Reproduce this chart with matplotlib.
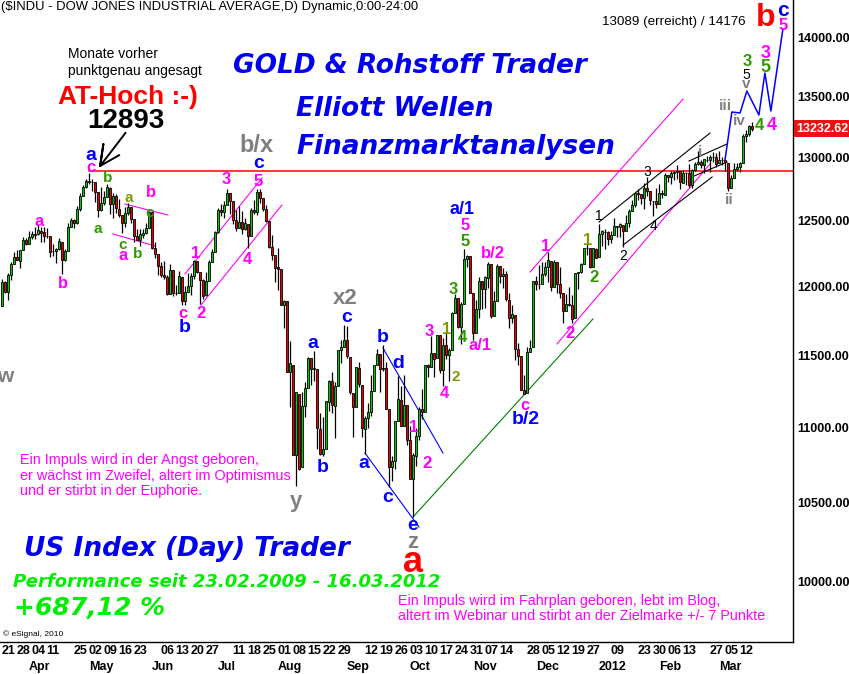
import numpy as np
import pandas as pd
import matplotlib
matplotlib.use('Agg')
import matplotlib.pyplot as plt
import matplotlib.transforms as mtransforms
from matplotlib.ticker import FixedLocator, NullLocator, FuncFormatter

W, H = 849, 674

# Handelstage ($INDU, Tageskerzen)
feiertage = ['2011-04-22', '2011-05-30', '2011-07-04', '2011-09-05', '2011-11-24',
             '2011-12-26', '2012-01-02', '2012-01-16', '2012-02-20']
tage = pd.bdate_range('2011-03-21', '2012-03-16')
tage = tage[~tage.isin(pd.to_datetime(feiertage))]

opens = [
    11860, 12036, 11958, 12087, 12171, 12221, 12196, 12280, 12349,
    12321, 12377, 12399, 12395, 12425, 12411, 12381, 12380, 12265, 12268, 12285, 12339, 12202, 12270, 12453, 12505, 12480, 12595, 12690, 12764,
    12810, 12807, 12806, 12723, 12585, 12638, 12685, 12760, 12630, 12696, 12595, 12547, 12480, 12560, 12605, 12511, 12381, 12356, 12394, 12403, 12442,
    12569, 12290, 12247, 12152, 12090, 12069, 11949, 12123, 11952, 11953, 12073, 11897, 11962, 12004, 12081, 12190, 12109, 12048, 11935, 12044, 12189, 12262,
    12415, 12582, 12569, 12627, 12718, 12655, 12505, 12447, 12490, 12437, 12479, 12385, 12588, 12572, 12723, 12680, 12592, 12501, 12301, 12239,
    12144, 12130, 11864, 11893, 11383, 11433, 10810, 11228, 10729, 11143, 11269, 11480, 11406, 11405, 10989, 10821, 10855, 11176, 11320, 11145, 11285, 11537, 11560,
    11613, 11492, 11238, 11140, 11414, 11294, 10990, 11061, 11105, 11247, 11433, 11509, 11401, 11408, 11124, 10731, 10770, 11044, 11190, 11011, 11152,
    10912, 10650, 10803, 10939, 11123, 11104, 11431, 11416, 11517, 11479, 11643, 11397, 11577, 11505, 11541, 11808, 11913, 11707, 11870, 12208, 12229,
    11954, 11660, 11835, 12043, 11982, 12068, 12168, 11782, 11893, 12153, 12078, 12096, 11904, 11770, 11794, 11547, 11493, 11258, 11232, 11524, 11559,
    12045, 12023, 12020, 12097, 12150, 12196, 11997, 12183, 12022, 11954, 11824, 11870, 11866, 11769, 12102, 12107, 12170, 12292, 12291, 12151, 12287,
    12221, 12397, 12413, 12415, 12360, 12394, 12460, 12449, 12471, 12423, 12482, 12578, 12623, 12719, 12707, 12675, 12757, 12734, 12658, 12654,
    12632, 12716, 12705, 12860, 12844, 12878, 12883, 12890, 12800, 12873, 12878, 12780, 12903, 12949, 12964, 12937, 12984, 12980, 13005, 13004,
    12954, 12979, 12977, 12958, 12760, 12838, 12907, 12921, 12959, 13176, 13193, 13253,
]
highs = [
    12055, 12040, 12100, 12185, 12260, 12278, 12280, 12375, 12371,
    12419, 12425, 12451, 12476, 12450, 12450, 12442, 12380, 12323, 12290, 12371, 12341, 12285, 12485, 12520, 12513, 12615, 12720, 12777, 12830,
    12876, 12832, 12807, 12723, 12761, 12734, 12786, 12767, 12719, 12708, 12667, 12547, 12605, 12638, 12605, 12511, 12438, 12439, 12435, 12481, 12578,
    12569, 12337, 12247, 12188, 12193, 12090, 12173, 12123, 12016, 12120, 12073, 12003, 12106, 12102, 12198, 12193, 12109, 12056, 12111, 12200, 12282, 12422,
    12596, 12635, 12653, 12753, 12718, 12655, 12584, 12616, 12573, 12525, 12479, 12602, 12660, 12751, 12752, 12680, 12620, 12501, 12394, 12239,
    12295, 12130, 11905, 11893, 11600, 11433, 11244, 11228, 11245, 11310, 11487, 11480, 11534, 11405, 11096, 11072, 11177, 11326, 11381, 11311, 11541, 11613, 11717,
    11708, 11492, 11238, 11415, 11455, 11294, 11076, 11164, 11361, 11434, 11544, 11509, 11577, 11453, 11124, 10804, 11044, 11353, 11284, 11360, 11152,
    11010, 10827, 10995, 11139, 11262, 11433, 11436, 11641, 11517, 11647, 11643, 11622, 11660, 11551, 11810, 11948, 11913, 11886, 12284, 12242, 12229,
    11954, 11899, 12074, 12043, 12078, 12183, 12168, 11966, 12168, 12153, 12137, 12120, 11951, 11864, 11794, 11586, 11493, 11363, 11560, 11608, 12046,
    12080, 12162, 12189, 12182, 12258, 12196, 12198, 12183, 12145, 11954, 11948, 11996, 11936, 12103, 12110, 12179, 12294, 12320, 12291, 12288, 12290,
    12479, 12430, 12435, 12418, 12419, 12524, 12460, 12485, 12471, 12546, 12590, 12666, 12720, 12753, 12707, 12793, 12841, 12734, 12658, 12760,
    12789, 12744, 12876, 12860, 12890, 12894, 12942, 12890, 12898, 12883, 12947, 12912, 12967, 13056, 12981, 12992, 13010, 13018, 13041, 13038,
    13055, 13006, 12981, 12958, 12863, 12955, 12956, 12965, 13193, 13227, 13262, 13289,
]
lows = [
    11860, 11950, 11900, 12050, 12170, 12197, 12140, 12280, 12314,
    12320, 12360, 12363, 12394, 12340, 12334, 12365, 12220, 12227, 12179, 12280, 12093, 12195, 12270, 12453, 12446, 12478, 12577, 12690, 12760,
    12787, 12735, 12645, 12527, 12580, 12624, 12684, 12556, 12525, 12560, 12529, 12406, 12455, 12542, 12480, 12340, 12356, 12303, 12370, 12400, 12442,
    12282, 12216, 12085, 12069, 12060, 11939, 11949, 11932, 11940, 11953, 11862, 11862, 11962, 11935, 12059, 12106, 11874, 11909, 11934, 12044, 12189, 12262,
    12405, 12537, 12522, 12626, 12555, 12479, 12418, 12446, 12401, 12432, 12289, 12385, 12551, 12546, 12642, 12575, 12491, 12288, 12200, 12032,
    11974, 11866, 11695, 11384, 11139, 10809, 10604, 10712, 10729, 11072, 11269, 11290, 11321, 10850, 10812, 10803, 10855, 11112, 11098, 10929, 11285, 11446, 11560,
    11484, 11229, 10930, 11140, 11276, 10933, 10821, 10997, 11076, 11247, 11433, 11243, 11393, 11124, 10597, 10640, 10716, 11044, 11007, 11011, 10879,
    10653, 10404, 10741, 10910, 11055, 11104, 11350, 11416, 11347, 11479, 11376, 11286, 11478, 11322, 11541, 11808, 11695, 11580, 11870, 12145, 11955,
    11613, 11660, 11771, 11839, 11843, 11994, 11770, 11782, 11893, 12030, 11994, 11894, 11697, 11735, 11467, 11434, 11258, 11231, 11232, 11524, 11559,
    11976, 11982, 12020, 12079, 12034, 11970, 11997, 11957, 11913, 11735, 11824, 11860, 11735, 11769, 11983, 12101, 12170, 12238, 12143, 12151, 12217,
    12221, 12310, 12283, 12311, 12328, 12394, 12377, 12372, 12300, 12423, 12450, 12578, 12608, 12663, 12630, 12594, 12697, 12621, 12540, 12603,
    12632, 12682, 12705, 12801, 12792, 12823, 12831, 12746, 12800, 12778, 12764, 12756, 12890, 12942, 12913, 12879, 12966, 12886, 12966, 12925,
    12954, 12941, 12892, 12733, 12760, 12838, 12890, 12886, 12959, 13129, 13172, 13217,
]
closes = [
    12036, 11959, 12086, 12170, 12220, 12198, 12280, 12350, 12320,
    12377, 12400, 12394, 12426, 12409, 12380, 12381, 12263, 12270, 12285, 12342, 12202, 12266, 12453, 12506, 12480, 12595, 12690, 12763, 12811,
    12808, 12807, 12724, 12584, 12638, 12685, 12761, 12631, 12696, 12596, 12548, 12480, 12560, 12606, 12512, 12381, 12356, 12395, 12403, 12441, 12570,
    12290, 12248, 12152, 12089, 12070, 11949, 12125, 11952, 11953, 12077, 11897, 11962, 12004, 12081, 12191, 12110, 12050, 11934, 12043, 12188, 12262, 12414,
    12582, 12570, 12626, 12719, 12657, 12505, 12447, 12491, 12437, 12480, 12385, 12587, 12572, 12724, 12681, 12593, 12502, 12302, 12240, 12143,
    12132, 11866, 11896, 11384, 11445, 10810, 11240, 10720, 11144, 11269, 11482, 11406, 11411, 10991, 10818, 10855, 11177, 11320, 11150, 11285, 11540, 11560, 11614,
    11494, 11240, 11140, 11415, 11296, 10992, 11062, 11106, 11247, 11434, 11510, 11401, 11408, 11125, 10734, 10771, 11044, 11191, 11011, 11154, 10913,
    10655, 10809, 10940, 11123, 11103, 11433, 11416, 11519, 11478, 11644, 11397, 11577, 11505, 11541, 11809, 11913, 11706, 11869, 12209, 12231, 11955,
    11658, 11836, 12044, 11983, 12069, 12170, 11781, 11894, 12153, 12079, 12097, 11906, 11771, 11796, 11548, 11494, 11258, 11231, 11524, 11556, 12046,
    12021, 12019, 12098, 12151, 12197, 11998, 12185, 12021, 11955, 11824, 11869, 11867, 11766, 12103, 12108, 12170, 12294, 12292, 12151, 12288, 12218,
    12398, 12418, 12416, 12360, 12393, 12462, 12450, 12472, 12422, 12482, 12579, 12624, 12720, 12709, 12676, 12758, 12735, 12660, 12653, 12633,
    12716, 12706, 12862, 12845, 12879, 12884, 12891, 12801, 12874, 12878, 12781, 12904, 12950, 12966, 12938, 12985, 12983, 13006, 13005, 12952,
    12980, 12978, 12962, 12759, 12837, 12907, 12922, 12959, 13177, 13194, 13253, 13233,
]
letzter_kurs = 13232.62
at_hoch = 12893

# Achsenbeschriftung unten
tag_labels = ['2011-03-21', '2011-03-28', '2011-04-04', '2011-04-11', '2011-04-25', '2011-05-02',
              '2011-05-09', '2011-05-16', '2011-05-23', '2011-06-06', '2011-06-13', '2011-06-20',
              '2011-06-27', '2011-07-11', '2011-07-18', '2011-07-25', '2011-08-01', '2011-08-08',
              '2011-08-15', '2011-08-22', '2011-08-29', '2011-09-12', '2011-09-19', '2011-09-26',
              '2011-10-03', '2011-10-10', '2011-10-17', '2011-10-24', '2011-10-31', '2011-11-07',
              '2011-11-14', '2011-11-28', '2011-12-05', '2011-12-12', '2011-12-19', '2011-12-27',
              '2012-01-09', '2012-01-23', '2012-01-30', '2012-02-06', '2012-02-13', '2012-02-27',
              '2012-03-05', '2012-03-12']
monat_labels = ['Apr', 'May', 'Jun', 'Jul', 'Aug', 'Sep', 'Oct', 'Nov', 'Dec', '2012', 'Feb', 'Mar']
kurs_ticks = [10000, 10500, 11000, 11500, 12000, 12500, 13000, 13500, 14000]

# Prognosepfad (Tagesindex, Kurs)
prog_idx = [241, 243.3, 246, 248.3, 252.3, 254.3, 256.3, 260.3]
prog_kurs = [12980, 13372, 13364, 13547, 13347, 13699, 13380, 14078]

# Trendlinien: (idx1, kurs1, idx2, kurs2, farbe)
linien = [
    (176, 12110, 227, 13480, '#ff00ff'),
    (185, 11582, 236, 12948, '#ff00ff'),
    (137, 10404, 197, 11763, '#008000'),
    (121, 10825, 139, 10340, '#0000ff'),
    (127, 11553, 147, 10825, '#0000ff'),
    (61, 12095, 86.7, 12837, '#ff00ff'),
    (66.3, 11865, 93.3, 12623, '#ff00ff'),
    (41, 12631, 55.3, 12545, '#ff00ff'),
    (37, 12399, 51, 12307, '#ff00ff'),
    (199, 12491, 236, 13199, 'black'),
    (207, 12314, 236.7, 12844, 'black'),
    (229, 12972, 241.7, 13110, 'black'),
    (230.7, 12852, 241.7, 12964, 'black'),
]
pfeil = [(41.2, 13201), (32.7, 12932), (33.8, 13109), (32.7, 12932), (39.1, 13020)]

B, M, G, O, GR, K, R = '#0000ff', '#ff00ff', '#2f9a00', '#7f9a00', '#808080', 'black', '#ff0000'
wellen = [
    ('a', 91, 155, B, 14), ('c', 91, 167, M, 12), ('b', 108, 177, G, 11),
    ('a', 39, 221, M, 12), ('b', 63, 282, M, 12), ('a', 98, 228, G, 11),
    ('a', 129, 197, O, 11), ('b', 151, 191, M, 12), ('c', 150, 212, G, 11),
    ('c', 123, 244, G, 11), ('a', 123, 255, M, 12), ('b', 138, 253, G, 11),
    ('c', 183, 312, M, 12), ('b', 185, 326, B, 14), ('1', 196, 252, M, 12),
    ('2', 201, 313, M, 12), ('3', 226, 179, M, 12), ('5', 258, 180, M, 12),
    ('c', 259, 163, B, 14), ('4', 247, 258, M, 12), ('b/x', 257, 145, GR, 17),
    ('w', 5, 375, GR, 15), ('x2', 345, 298, GR, 16), ('c', 347, 316, B, 14),
    ('a', 313, 342, B, 14), ('b', 383, 337, B, 14), ('d', 398, 363, B, 14),
    ('b', 323, 467, B, 14), ('y', 296, 500, GR, 16), ('a', 364, 463, B, 14),
    ('c', 388, 497, B, 14), ('e', 413, 525, B, 14), ('z', 413, 542, GR, 16),
    ('a', 413, 562, R, 26), ('1', 414, 427, M, 12), ('2', 427, 462, M, 12),
    ('3', 429, 330, M, 12), ('1', 447, 328, O, 12), ('4', 444, 393, M, 12),
    ('2', 456, 376, O, 11), ('3', 453, 288, G, 12), ('4', 462, 337, G, 12),
    ('a/1', 462, 209, B, 13), ('5', 465, 225, M, 12), ('5', 465, 240, G, 12),
    ('b/2', 493, 252, M, 12), ('a/1', 480, 345, M, 12), ('c', 525, 404, M, 12),
    ('b/2', 526, 419, B, 14), ('1', 546, 245, M, 12), ('2', 570, 332, M, 12),
    ('1', 588, 239, O, 12), ('2', 594, 277, G, 12),
    ('i', 700, 151, GR, 11), ('ii', 729, 199, GR, 11), ('iii', 725, 105, GR, 11),
    ('iv', 739, 120, GR, 11), ('v', 746, 83, GR, 11), ('3', 747, 61, G, 12),
    ('4', 759, 125, G, 12), ('3', 766, 52, M, 13), ('5', 765, 66, G, 13),
    ('4', 772, 125, M, 13), ('b', 766, 17, R, 23), ('c', 783, 10, B, 15),
    ('5', 783, 24, M, 12),
]
duenn = [('1', 599, 215), ('2', 623, 255), ('3', 647, 171), ('4', 653, 225), ('5', 746, 74)]

plt.rcParams['font.family'] = ['Liberation Sans', 'DejaVu Sans']

fig = plt.figure(figsize=(W / 100, H / 100), dpi=100)
fig.patch.set_facecolor('white')
ax = fig.add_axes([0, 1 - 642 / H, 793 / W, 642 / H])
ax.set_yscale('log')
ax.set_xlim(-2 / 3, (793 - 2) / 3)
ax.set_ylim(10000 * np.exp(-61 / 1614), 10000 * np.exp(581 / 1614))

x = np.arange(len(tage))
o, h, l, c = (np.array(v, dtype=float) for v in (opens, highs, lows, closes))
farben = np.where(c >= o, '#00cc00', '#ee0000')
ax.vlines(x, l, h, color='black', lw=0.9, zorder=2)
ax.bar(x, np.maximum(np.abs(c - o), 1), bottom=np.minimum(o, c), width=0.9,
       color=farben, edgecolor='black', linewidth=0.6, zorder=3)

ax.axhline(at_hoch, xmin=(29 + 2 / 3) / ((793) / 3), color='red', lw=1.1, zorder=1)
for x1, y1, x2, y2, col in linien:
    ax.plot([x1, x2], [y1, y2], color=col, lw=0.8, zorder=1)
ax.plot(prog_idx, prog_kurs, color='#0000ff', lw=1.1, zorder=4)
px_, py_ = zip(*pfeil)
ax.plot(px_, py_, color='black', lw=1.4, solid_capstyle='round', zorder=5)

# Achsen
for s in ['top', 'left']:
    ax.spines[s].set_visible(False)
for s in ['right', 'bottom']:
    ax.spines[s].set_linewidth(1.0)
    ax.spines[s].set_color('black')
ax.set_xticks([])
ax.yaxis.tick_right()
ax.yaxis.set_major_locator(FixedLocator(kurs_ticks))
ax.yaxis.set_minor_locator(NullLocator())
ax.yaxis.set_major_formatter(FuncFormatter(lambda v, p: f'{v:.2f}'))
ax.tick_params(axis='y', length=0, pad=3, labelsize=9)
for t in ax.get_yticklabels():
    t.set_fontweight('bold')

# aktueller Kurs als rotes Schild
ktrans = mtransforms.blended_transform_factory(fig.transFigure, ax.transData)
ax.text(796 / W, letzter_kurs, f'{letzter_kurs:.2f}', transform=ktrans,
        ha='left', va='center', color='white', fontsize=9, fontweight='bold',
        bbox=dict(boxstyle='square,pad=0.2', fc='#ee1111', ec='none'), clip_on=False)

trans = mtransforms.blended_transform_factory(ax.transData, fig.transFigure)
pos = {d: i for i, d in enumerate(tage)}
for d in tag_labels:
    i = pos[pd.Timestamp(d)]
    ax.text(i - 0.1, 1 - 651 / H, pd.Timestamp(d).strftime('%d'), transform=trans, ha='left', va='center',
            fontsize=9, fontweight='bold', clip_on=False)
erste = pd.Series(np.arange(len(tage)), index=tage).groupby([tage.year, tage.month]).first().values[1:]
for i, lab in zip(erste, monat_labels):
    ax.text(i, 1 - 667 / H, lab, transform=trans, ha='left', va='center',
            fontsize=9, fontweight='bold', clip_on=False)


def ftext(px, py, s, **kw):
    fig.text(px / W, 1 - py / H, s, **kw)


for s, px, py, col, fs in wellen:
    ftext(px, py + 1, s, color=col, fontsize=fs, fontweight='bold', ha='center', va='center')
for s, px, py in duenn:
    ftext(px, py + 1, s, color='black', fontsize=10, ha='center', va='center')

ftext(1, 7, '($INDU - DOW JONES INDUSTRIAL AVERAGE,D) Dynamic,0:00-24:00', fontsize=9.4, va='center')
ftext(68, 54, 'Monate vorher', fontsize=10, va='center')
ftext(68, 71, 'punktgenau angesagt', fontsize=10, va='center')
ftext(128, 97, 'AT-Hoch :-)', color='red', fontsize=19, fontweight='bold', ha='center', va='center')
ftext(126, 121, '12893', color='black', fontsize=20, fontweight='bold', ha='center', va='center')
ftext(602, 22, '13089 (erreicht) / 14176', fontsize=9.6, va='center')

titel = dict(color='#0000ee', fontsize=19, fontweight='bold', style='oblique', family='DejaVu Sans', va='center')
ftext(233, 66, 'GOLD & Rohstoff Trader', **titel)
ftext(296, 109, 'Elliott Wellen', **titel)
ftext(296, 147, 'Finanzmarktanalysen', **titel)
ftext(24, 549, 'US Index (Day) Trader', **titel)
ftext(13, 582, 'Performance seit 23.02.2009 - 16.03.2012', color='#00ee00', fontsize=13,
      fontweight='bold', style='oblique', family='DejaVu Sans', va='center')
ftext(14, 608, '+687,12 %', color='#00ee00', fontsize=18, fontweight='bold', style='oblique',
      family='DejaVu Sans', va='center')

zitat = dict(color='#ff00ff', fontsize=10.4, va='center')
ftext(20, 460, 'Ein Impuls wird in der Angst geboren,', **zitat)
ftext(20, 476, 'er wächst im Zweifel, altert im Optimismus', **zitat)
ftext(20, 491, 'und er stirbt in der Euphorie.', **zitat)
ftext(398, 601, 'Ein Impuls wird im Fahrplan geboren, lebt im Blog,', **zitat)
ftext(398, 616, 'altert im Webinar und stirbt an der Zielmarke +/- 7 Punkte', **zitat)
ftext(3, 634, '© eSignal, 2010', fontsize=6, va='center')

fig.savefig('out.png', dpi=100, facecolor='white')
